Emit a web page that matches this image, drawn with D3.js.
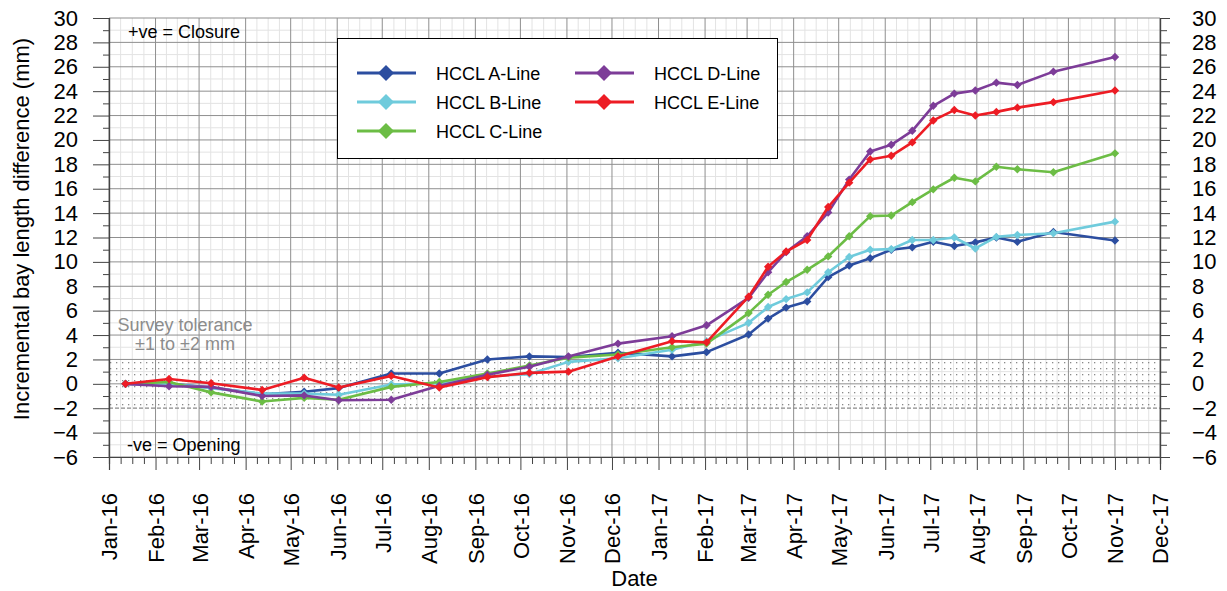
<!DOCTYPE html>
<html>
<head>
<meta charset="utf-8">
<script src="https://cdn.jsdelivr.net/npm/d3@7"></script>
<style>
  html, body { margin: 0; padding: 0; background: #fff; }
  svg { display: block; font-family: "Liberation Sans", Arial, sans-serif; }
</style>
</head>
<body>
<svg id="chart" width="1227" height="591"></svg>
<script>
// Survey dates (shared by all lines)
const surveyDates = [
  "2016-01-12", "2016-02-10", "2016-03-09", "2016-04-12", "2016-05-10", "2016-06-02",
  "2016-07-07", "2016-08-08", "2016-09-09", "2016-10-07", "2016-11-02", "2016-12-05",
  "2017-01-10", "2017-02-02", "2017-03-02", "2017-03-15", "2017-03-27", "2017-04-10",
  "2017-04-24", "2017-05-08", "2017-05-22", "2017-06-05", "2017-06-19", "2017-07-03",
  "2017-07-17", "2017-07-31", "2017-08-14", "2017-08-28", "2017-09-21", "2017-11-01"
];

// Incremental bay length difference (mm) per line
const lineA = [0, 0.0, -0.3, -0.85, -0.65, -0.35, 0.85, 0.85, 2.0, 2.25, 2.2, 2.55, 2.25, 2.6, 4.05, 5.35, 6.25, 6.75, 8.75, 9.7, 10.3, 11.0, 11.2, 11.65, 11.3, 11.6, 12.0, 11.65, 12.45, 11.75];
const lineB = [0, 0.0, -0.35, -0.8, -0.8, -0.9, -0.05, 0.05, 0.6, 0.8, 1.8, 2.1, 2.8, 3.5, 5.0, 6.3, 6.95, 7.5, 9.15, 10.4, 11.0, 11.05, 11.8, 11.8, 12.0, 11.1, 12.05, 12.2, 12.35, 13.3];
const lineC = [0, 0.15, -0.7, -1.45, -1.15, -1.3, -0.25, 0.15, 0.85, 1.5, 2.15, 2.4, 3.0, 3.3, 5.8, 7.3, 8.35, 9.35, 10.45, 12.1, 13.75, 13.8, 14.9, 15.95, 16.9, 16.6, 17.8, 17.6, 17.35, 18.9];
const lineD = [0, -0.2, -0.25, -1.0, -0.95, -1.35, -1.3, -0.15, 0.75, 1.4, 2.25, 3.3, 3.9, 4.8, 7.05, 9.15, 10.8, 12.1, 14.05, 16.75, 19.05, 19.6, 20.75, 22.8, 23.8, 24.05, 24.7, 24.5, 25.6, 26.8];
const lineE = [0, 0.4, 0.05, -0.5, 0.5, -0.3, 0.65, -0.3, 0.55, 0.9, 1.0, 2.25, 3.5, 3.4, 7.15, 9.6, 10.85, 11.8, 14.5, 16.5, 18.4, 18.7, 19.8, 21.6, 22.45, 22.0, 22.3, 22.65, 23.1, 24.05];

const seriesNames = ["HCCL A-Line", "HCCL B-Line", "HCCL C-Line", "HCCL D-Line", "HCCL E-Line"];
const seriesColors = ["#2c4ea0", "#6fcbdc", "#6cbd45", "#7d3c98", "#ed1c24"];
const seriesValues = [lineA, lineB, lineC, lineD, lineE];

const yTicks = d3.range(-6, 31, 2);
const yMinorTicks = d3.range(-5, 30, 2);
const tolerance = [-2, 2];

const svg = d3.select("#chart");
const plotL = 109, plotR = 1160, plotT = 18, plotB = 457;

const parse = d3.utcParse("%Y-%m-%d");
const dates = surveyDates.map(parse);
const xStart = Date.UTC(2016, 0, 1), xEnd = Date.UTC(2017, 11, 1);

const x = d3.scaleUtc().domain([xStart, xEnd]).range([plotL, plotR]);
const y = d3.scaleLinear().domain([-6, 30]).range([plotB, plotT]);

const months = d3.utcMonth.range(new Date(xStart), new Date(xEnd + 1));
// quarter-month subdivisions
const minorX = [];
months.slice(0, -1).forEach(m => {
  const next = d3.utcMonth.offset(m, 1);
  for (let k = 1; k < 4; k++) minorX.push(new Date(+m + (next - m) * k / 4));
});

// dotted fill for the survey tolerance band
const defs = svg.append("defs");
const pat = defs.append("pattern").attr("id", "dots")
  .attr("patternUnits", "userSpaceOnUse").attr("width", 6).attr("height", 6);
pat.append("rect").attr("x", 2).attr("y", 2).attr("width", 1.3).attr("height", 1.3).attr("fill", "#8a8a8a");

// minor grid
const grid = svg.append("g");
grid.selectAll(".vx").data(minorX).join("line")
  .attr("x1", d => x(d)).attr("x2", d => x(d)).attr("y1", plotT).attr("y2", plotB)
  .attr("stroke", "#e3e3e3").attr("stroke-width", 1);
grid.selectAll(".hy").data(yMinorTicks).join("line")
  .attr("x1", plotL).attr("x2", plotR).attr("y1", d => y(d)).attr("y2", d => y(d))
  .attr("stroke", "#e3e3e3").attr("stroke-width", 1);

// major grid
grid.selectAll(".vX").data(months).join("line")
  .attr("x1", d => x(d)).attr("x2", d => x(d)).attr("y1", plotT).attr("y2", plotB)
  .attr("stroke", "#8f8f8f").attr("stroke-width", 1);
grid.selectAll(".hY").data(yTicks.filter(v => v !== -2)).join("line")
  .attr("x1", plotL).attr("x2", plotR).attr("y1", d => y(d)).attr("y2", d => y(d))
  .attr("stroke", "#8f8f8f").attr("stroke-width", 1);

// survey tolerance band
svg.append("rect")
  .attr("x", plotL).attr("y", y(tolerance[1]))
  .attr("width", plotR - plotL).attr("height", y(tolerance[0]) - y(tolerance[1]))
  .attr("fill", "url(#dots)");
svg.append("line").attr("x1", plotL).attr("x2", plotR)
  .attr("y1", y(tolerance[0])).attr("y2", y(tolerance[0]))
  .attr("stroke", "#8a8a8a").attr("stroke-width", 1.2).attr("stroke-dasharray", "4,2");

// axes
const fontSize = 22;
const axL = svg.append("g").attr("transform", `translate(${plotL},0)`)
  .call(d3.axisLeft(y).tickValues(yTicks).tickSize(16).tickPadding(15));
const axLm = svg.append("g").attr("transform", `translate(${plotL},0)`)
  .call(d3.axisLeft(y).tickValues(yMinorTicks).tickSize(6).tickFormat(""));
const axR = svg.append("g").attr("transform", `translate(${plotR},0)`)
  .call(d3.axisRight(y).tickValues(yTicks).tickSize(10).tickPadding(22));
const axRm = svg.append("g").attr("transform", `translate(${plotR},0)`)
  .call(d3.axisRight(y).tickValues(yMinorTicks).tickSize(7).tickFormat(""));
const axB = svg.append("g").attr("transform", `translate(0,${plotB})`)
  .call(d3.axisBottom(x).tickValues(months).tickSize(13).tickFormat(d3.utcFormat("%b-%y")));
const axBm = svg.append("g").attr("transform", `translate(0,${plotB})`)
  .call(d3.axisBottom(x).tickValues(minorX).tickSize(7).tickFormat(""));

[axL, axLm, axR, axRm, axB, axBm].forEach(g => {
  g.select(".domain").attr("stroke", "#444").attr("stroke-width", 1.2);
  g.selectAll(".tick line").attr("stroke", "#444");
  g.selectAll("text").attr("font-size", fontSize).attr("fill", "#000")
    .attr("font-family", "Liberation Sans, Arial, sans-serif");
});
axB.selectAll(".tick text")
  .attr("transform", "rotate(-90)")
  .attr("text-anchor", "end")
  .attr("x", -36).attr("y", 0).attr("dy", "0.36em");

// axis titles
svg.append("text").attr("x", (plotL + plotR) / 2).attr("y", 586)
  .attr("text-anchor", "middle").attr("font-size", fontSize).text("Date");
svg.append("text").attr("transform", "translate(29,229) rotate(-90)")
  .attr("text-anchor", "middle").attr("font-size", fontSize)
  .text("Incremental bay length difference (mm)");

// annotations
svg.append("text").attr("x", 128).attr("y", 38).attr("font-size", 18).text("+ve = Closure");
svg.append("text").attr("x", 127).attr("y", 451).attr("font-size", 18).text("-ve = Opening");
const tol = svg.append("text").attr("text-anchor", "middle").attr("font-size", 18).attr("fill", "#8c8c8c");
tol.append("tspan").attr("x", 185).attr("y", 331).text("Survey tolerance");
tol.append("tspan").attr("x", 185).attr("y", 350).text("\u00b11 to \u00b12 mm");

// data lines
const diamond = r => `M0,${-r}L${r},0L0,${r}L${-r},0Z`;
const lineGen = d3.line().x(d => x(d.date)).y(d => y(d.value));
seriesValues.forEach((vals, i) => {
  const pts = vals.map((v, j) => ({ date: dates[j], value: v }));
  const g = svg.append("g");
  g.append("path").datum(pts).attr("d", lineGen)
    .attr("fill", "none").attr("stroke", seriesColors[i]).attr("stroke-width", 2.6)
    .attr("stroke-linejoin", "round");
  g.selectAll("path.m").data(pts).join("path").attr("class", "m")
    .attr("d", diamond(4.2))
    .attr("transform", d => `translate(${x(d.date)},${y(d.value)})`)
    .attr("fill", seriesColors[i]);
});

// legend
const lg = svg.append("g");
lg.append("rect").attr("x", 337.5).attr("y", 38.5).attr("width", 440).attr("height", 120)
  .attr("fill", "#fff").attr("stroke", "#000").attr("stroke-width", 1);
const legendPos = [
  { lx: 357, ty: 73 }, { lx: 357, ty: 102 }, { lx: 357, ty: 131 },
  { lx: 575, ty: 73 }, { lx: 575, ty: 102 }
];
seriesNames.forEach((name, i) => {
  const p = legendPos[i];
  const item = lg.append("g");
  item.append("line").attr("x1", p.lx).attr("x2", p.lx + 59).attr("y1", p.ty).attr("y2", p.ty)
    .attr("stroke", seriesColors[i]).attr("stroke-width", 3);
  item.append("path").attr("d", diamond(8)).attr("transform", `translate(${p.lx + 29},${p.ty})`)
    .attr("fill", seriesColors[i]);
  item.append("text").attr("x", p.lx + 79).attr("y", p.ty + 6.5).attr("font-size", 18).text(name);
});
</script>
</body>
</html>
